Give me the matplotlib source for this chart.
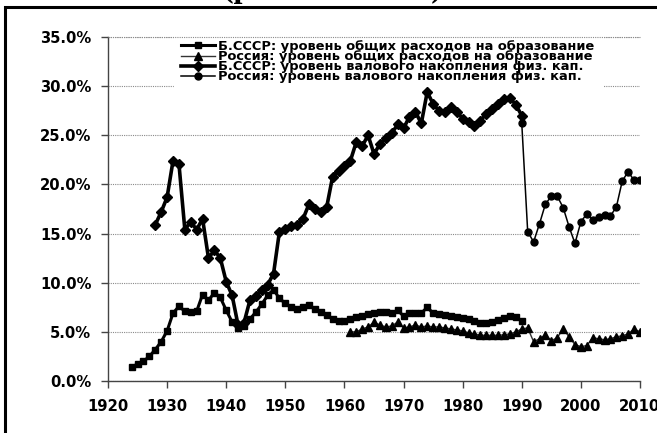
import matplotlib
matplotlib.use("Agg")
import matplotlib.pyplot as plt
from matplotlib.patches import Rectangle
from matplotlib.ticker import FuncFormatter, MultipleLocator

plt.rcParams['font.family'] = ['DejaVu Sans']

# ---- data ----
ussr_edu_years = list(range(1924, 1991))
ussr_edu = [1.45, 1.7, 2.0, 2.5, 3.2, 4.0, 5.1, 6.9, 7.6, 7.1, 7.0, 7.1,
            8.8, 8.2, 9.0, 8.5, 7.2, 6.0, 5.4, 5.6, 6.3, 7.0, 7.8, 8.7, 9.3, 8.4,
            7.9, 7.5, 7.3, 7.5, 7.7, 7.3, 7.0, 6.7, 6.3, 6.1, 6.1, 6.3, 6.5, 6.6,
            6.8, 6.9, 7.0, 7.0, 6.9, 7.2, 6.6, 6.9, 6.9, 6.9, 7.5, 6.9, 6.8, 6.7,
            6.6, 6.5, 6.4, 6.3, 6.1, 5.9, 5.9, 6.0, 6.2, 6.4, 6.6, 6.5, 6.1]

rus_edu_years = list(range(1961, 2011))
rus_edu = [5.0, 5.0, 5.3, 5.5, 6.0, 5.7, 5.5, 5.6, 6.0, 5.4, 5.5, 5.7, 5.5,
           5.6, 5.5, 5.5, 5.4, 5.3, 5.2, 5.1, 4.9, 4.8, 4.65, 4.65, 4.65, 4.65,
           4.7, 4.8, 5.0, 5.3, 5.4, 4.0, 4.3, 4.7, 4.1, 4.4, 5.3, 4.5, 3.7, 3.5,
           3.6, 4.4, 4.3, 4.2, 4.3, 4.5, 4.6, 4.8, 5.3, 5.0]

ussr_acc_years = list(range(1928, 1991))
ussr_acc = [15.9, 17.2, 18.7, 22.4, 22.1, 15.4, 16.2, 15.4, 16.5, 12.5, 13.3,
            12.5, 10.1, 8.7, 5.7, 5.9, 8.2, 8.6, 9.3, 9.8, 10.9,
            15.2, 15.5, 15.8, 15.9, 16.5, 18.0, 17.5, 17.2, 17.7, 20.8, 21.4,
            21.9, 22.4, 24.3, 23.9, 25.0, 23.1, 24.1, 24.7, 25.2, 26.1, 25.7,
            26.9, 27.4, 26.2, 29.4, 28.2, 27.5, 27.4, 27.9, 27.4, 26.7, 26.4,
            25.9, 26.5, 27.2, 27.7, 28.2, 28.7, 28.8, 28.1, 27.0]

rus_acc_years = list(range(1990, 2011))
rus_acc = [26.2, 15.2, 14.15, 16.0, 18.0, 18.8, 18.8, 17.65, 15.7, 14.0, 16.2,
           17.0, 16.4, 16.7, 16.9, 16.8, 17.7, 20.35, 21.3, 20.4, 20.5]

labels = ["Б.СССР: уровень общих расходов на образование",
          "Россия: уровень общих расходов на образование",
          "Б.СССР: уровень валового накопления физ. кап.",
          "Россия: уровень валового накопления физ. кап."]
title_text = "(расчет к ВВП)"

W, H = 657, 433
fig = plt.figure(figsize=(W / 100, H / 100), dpi=100)
ax = fig.add_axes([108 / W, 1 - 381 / H, 532 / W, 344 / H])

ax.plot(ussr_edu_years, ussr_edu, color='black', lw=2.2, marker='s', ms=5,
        label=labels[0], zorder=4)
ax.plot(rus_edu_years, rus_edu, color='#333333', lw=1.0, marker='^', ms=6,
        markerfacecolor='black', markeredgecolor='black', label=labels[1], zorder=3)
ax.plot(ussr_acc_years, ussr_acc, color='black', lw=2.6, marker='D', ms=5.5,
        label=labels[2], zorder=5)
ax.plot(rus_acc_years, rus_acc, color='black', lw=1.1, marker='o', ms=5,
        label=labels[3], zorder=4)

ax.set_xlim(1920, 2010)
ax.set_ylim(0, 35)
ax.xaxis.set_major_locator(MultipleLocator(10))
ax.yaxis.set_major_locator(MultipleLocator(5))
ax.yaxis.set_major_formatter(FuncFormatter(lambda v, p: f"{v:.1f}%"))
for lab in ax.get_xticklabels() + ax.get_yticklabels():
    lab.set_fontweight('bold')
ax.tick_params(axis='both', labelsize=10.6, direction='out', length=5, width=1,
               color='#444444')
ax.tick_params(axis='y', pad=7)
ax.tick_params(axis='x', pad=8)
grid_style = dict(color='#8a8a8a', lw=0.8, ls=(0, (1, 1)))
ax.grid(axis='y', **grid_style)
ax.set_axisbelow(True)
ax.axhline(35, zorder=7, clip_on=False, **grid_style)
for s in ['top', 'right']:
    ax.spines[s].set_visible(False)
for s in ['left', 'bottom']:
    ax.spines[s].set_color('#444444')
    ax.spines[s].set_linewidth(1)

leg = ax.legend(loc='upper left', bbox_to_anchor=(0.124, 1.012), frameon=True,
                prop={'weight': 'bold', 'size': 9.4}, handlelength=2.6,
                handletextpad=0.25, labelspacing=-0.22, borderpad=0.55,
                borderaxespad=0, fancybox=False)
leg.get_frame().set_edgecolor('white')
leg.get_frame().set_facecolor('white')
leg.get_frame().set_alpha(1)
leg.set_zorder(2.5)

# figure frame (partially cropped)
fig.patches.append(Rectangle((5 / W, -0.1), 1.2, 1 - 7 / H + 0.1,
                             transform=fig.transFigure, fill=False,
                             edgecolor='black', lw=2.2))
fig.text(332 / W, 1 + 3 / H, title_text, ha='center', va='baseline',
         fontsize=23, fontweight='bold', family='Liberation Serif')

fig.savefig("out.png", dpi=100)
